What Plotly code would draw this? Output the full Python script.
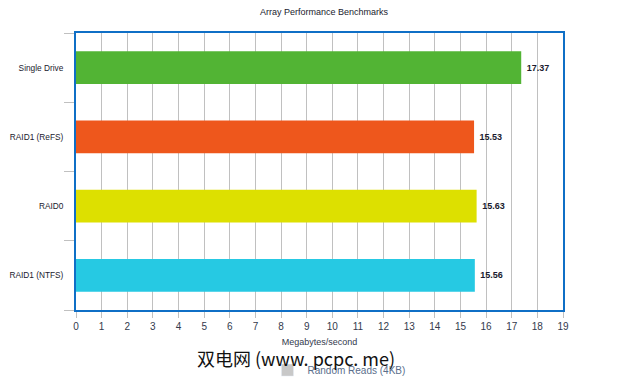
import plotly.graph_objects as go

categories = ["Single Drive", "RAID1 (ReFS)", "RAID0", "RAID1 (NTFS)"]
values = [17.37, 15.53, 15.63, 15.56]
colors = ["#52b434", "#ee571c", "#dde000", "#26c9e3"]
series_name = "Random Reads (4KB)"
x_ticks = list(range(0, 20))

fig = go.Figure()
fig.add_trace(go.Bar(
    y=categories, x=values, orientation="h",
    marker=dict(color=colors, line=dict(width=0)),
    width=0.47,
    text=[f"<b>{v:.2f}</b>" for v in values],
    texttemplate=" %{text}",
    textposition="outside",
    textfont=dict(family="Liberation Sans, Arial", size=9, color="#1a1a2e"),
    cliponaxis=False,
    name=series_name, showlegend=False,
))
# legend entry (grey square)
fig.add_trace(go.Bar(
    y=[None], x=[None], orientation="h",
    marker=dict(color="#c8c8c8"), name=series_name, showlegend=True,
))

fig.update_layout(
    width=632, height=375,
    margin=dict(l=68, r=77, t=25, b=73, autoexpand=False),
    paper_bgcolor="white", plot_bgcolor="white",
    title=dict(text="Array Performance Benchmarks", x=0.5, xanchor="center",
               y=1 - 4/375, yanchor="middle", automargin=False,
               font=dict(family="Liberation Sans, Arial", size=9, color="#1a1a2e")),
    font=dict(family="Liberation Sans, Arial", size=9, color="#333a4d"),
    showlegend=True,
    legend=dict(orientation="h", x=0.54, xanchor="center", y=-0.217, yanchor="middle",
                font=dict(size=10, color="#5a6e8c"), itemwidth=30),
    xaxis=dict(range=[0, 19], tickvals=x_ticks, showgrid=True, gridcolor="#c0c0c0",
               gridwidth=1, zeroline=False, showline=True, linecolor="#0f6fc6",
               linewidth=2, mirror=True, ticks="outside", ticklen=6, tickcolor="#c0c0c0",
               automargin=False,
               tickfont=dict(size=10, color="#333a4d"),
               title=dict(text="Megabytes/second", font=dict(size=9, color="#333a4d"), standoff=8)),
    yaxis=dict(categoryorder="array", categoryarray=categories[::-1],
               showgrid=False, zeroline=False, showline=True, linecolor="#0f6fc6",
               linewidth=2, mirror=True, ticks="outside", tickson="boundaries",
               ticklen=10, tickcolor="#c0c0c0", ticklabelstandoff=9,
               automargin=False,
               tickfont=dict(size=8.3, color="#1a1a2e")),
)

fig.add_annotation(text="双电网 (www. pcpc. me)", xref="paper", yref="paper",
                   x=(187-68)/487, y=(302-350)/277, xanchor="left", yanchor="middle",
                   showarrow=False,
                   font=dict(family="Noto Sans CJK SC", size=18, color="#111111"))

fig.write_html("out.html")
